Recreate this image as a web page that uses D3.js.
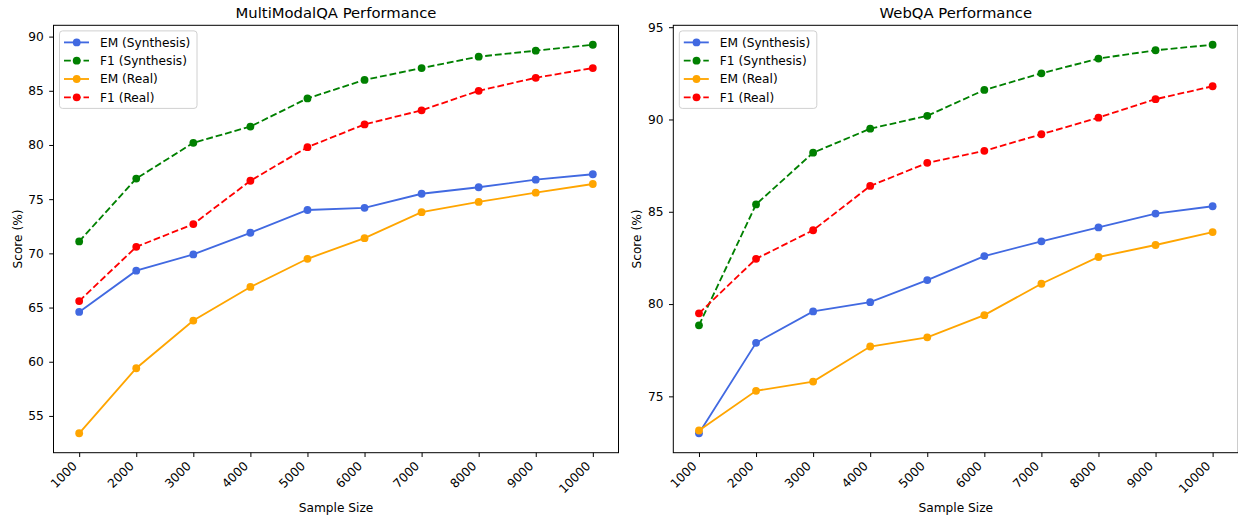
<!DOCTYPE html>
<html>
<head>
<meta charset="utf-8">
<script src="https://cdn.jsdelivr.net/npm/d3@7"></script>
<style>
  html, body { margin: 0; padding: 0; background: #fff; }
  svg text { font-family: "DejaVu Sans", sans-serif; fill: #000; }
</style>
</head>
<body>
<svg id="chart" width="1238" height="519"></svg>
<script>
// sample sizes on the x axis
const sampleSizes = [1000, 2000, 3000, 4000, 5000, 6000, 7000, 8000, 9000, 10000];

// MultiModalQA scores (%)
const mmqaEmSynth = [64.6, 68.4, 69.9, 71.9, 74.0, 74.2, 75.5, 76.1, 76.8, 77.3];
const mmqaF1Synth = [71.1, 76.9, 80.2, 81.7, 84.3, 86.0, 87.1, 88.15, 88.7, 89.25];
const mmqaEmReal = [53.4, 59.4, 63.8, 66.9, 69.5, 71.4, 73.8, 74.75, 75.6, 76.4];
const mmqaF1Real = [65.6, 70.6, 72.7, 76.7, 79.8, 81.9, 83.2, 85.0, 86.2, 87.1];

// WebQA scores (%)
const webqaEmSynth = [73.0, 77.9, 79.6, 80.1, 81.3, 82.6, 83.4, 84.15, 84.9, 85.3];
const webqaF1Synth = [78.85, 85.4, 88.2, 89.5, 90.2, 91.6, 92.5, 93.3, 93.75, 94.05];
const webqaEmReal = [73.15, 75.3, 75.8, 77.7, 78.2, 79.4, 81.1, 82.55, 83.2, 83.9];
const webqaF1Real = [79.5, 82.45, 84.0, 86.4, 87.65, 88.3, 89.2, 90.1, 91.1, 91.8];

// tick labels
const mmqaYTicks = [55, 60, 65, 70, 75, 80, 85, 90];
const webqaYTicks = [75, 80, 85, 90, 95];

const seriesNames = ["EM (Synthesis)", "F1 (Synthesis)", "EM (Real)", "F1 (Real)"];

const svg = d3.select("#chart");

// style per series, same order as seriesNames
const styles = [
  { color: "#4169e1", dash: null },
  { color: "#008000", dash: "6.8,2.95" },
  { color: "#ffa500", dash: null },
  { color: "#ff0000", dash: "6.8,2.95" },
];

function drawPanel(opts) {
  const { left, right, top, bottom, title, series, yTicks } = opts;

  // x limits padded by 5% like matplotlib
  const xMin = d3.min(sampleSizes), xMax = d3.max(sampleSizes);
  const xPad = (xMax - xMin) * 0.05;
  const x = d3.scaleLinear().domain([xMin - xPad, xMax + xPad]).range([left, right]);

  const all = series.flat();
  const yMin = d3.min(all), yMax = d3.max(all);
  const yPad = (yMax - yMin) * 0.05;
  const y = d3.scaleLinear().domain([yMin - yPad, yMax + yPad]).range([bottom, top]);

  const g = svg.append("g");

  // clip so the right panel gets cut by the window edge like the original
  // lines + markers
  const line = d3.line().x((d, i) => x(sampleSizes[i])).y(d => y(d));
  series.forEach((vals, si) => {
    const st = styles[si];
    g.append("path")
      .datum(vals)
      .attr("d", line)
      .attr("fill", "none")
      .attr("stroke", st.color)
      .attr("stroke-width", 1.84)
      .attr("stroke-dasharray", st.dash);
    g.selectAll(null)
      .data(vals)
      .enter()
      .append("circle")
      .attr("cx", (d, i) => x(sampleSizes[i]))
      .attr("cy", d => y(d))
      .attr("r", 3.9)
      .attr("fill", st.color);
  });

  // x axis
  const xAxis = g.append("g")
    .attr("transform", `translate(0,${bottom})`)
    .call(d3.axisBottom(x).tickValues(sampleSizes).tickSize(4.3).tickFormat(d3.format("d")));
  xAxis.select(".domain").remove();
  xAxis.selectAll(".tick line").attr("stroke", "#000").attr("stroke-width", 1);
  xAxis.selectAll(".tick text")
    .attr("y", null).attr("dy", null)
    .attr("text-anchor", "end")
    .attr("font-size", 12.2)
    .attr("font-family", "DejaVu Sans")
    .attr("transform", "translate(-2,14) rotate(-45)");

  // y axis
  const yAxis = g.append("g")
    .attr("transform", `translate(${left},0)`)
    .call(d3.axisLeft(y).tickValues(yTicks).tickSize(4.3).tickPadding(5.5));
  yAxis.select(".domain").remove();
  yAxis.selectAll(".tick line").attr("stroke", "#000").attr("stroke-width", 1);
  yAxis.selectAll(".tick text")
    .attr("font-size", 12.2)
    .attr("font-family", "DejaVu Sans");

  // frame
  g.append("rect")
    .attr("x", left).attr("y", top)
    .attr("width", right - left).attr("height", bottom - top)
    .attr("fill", "none").attr("stroke", "#000").attr("stroke-width", 1);

  // title and axis labels
  g.append("text")
    .attr("x", (left + right) / 2).attr("y", 18.3)
    .attr("text-anchor", "middle")
    .attr("font-size", 14.8)
    .text(title);
  g.append("text")
    .attr("x", (left + right) / 2).attr("y", 512)
    .attr("text-anchor", "middle")
    .attr("font-size", 12.2)
    .text("Sample Size");
  g.append("text")
    .attr("transform", `translate(${left - 32},${(top + bottom) / 2}) rotate(-90)`)
    .attr("text-anchor", "middle")
    .attr("font-size", 12.2)
    .text("Score (%)");

  // legend
  const lg = g.append("g").attr("transform", `translate(${left + 6},${top + 5.6})`);
  lg.append("rect")
    .attr("width", 137.5).attr("height", 77.5)
    .attr("rx", 3).attr("ry", 3)
    .attr("fill", "rgba(255,255,255,0.8)")
    .attr("stroke", "#d0d0d0").attr("stroke-width", 1);
  seriesNames.forEach((name, i) => {
    const st = styles[i];
    const cy = 11.5 + i * 18.3;
    lg.append("line")
      .attr("x1", 4.5).attr("x2", 29.5).attr("y1", cy).attr("y2", cy)
      .attr("stroke", st.color).attr("stroke-width", 1.84)
      .attr("stroke-dasharray", st.dash);
    lg.append("circle")
      .attr("cx", 17.2).attr("cy", cy).attr("r", 3.9).attr("fill", st.color);
    lg.append("text")
      .attr("x", 40.5).attr("y", cy).attr("dy", "0.36em")
      .attr("font-size", 12.2)
      .text(name);
  });
}

drawPanel({
  left: 53.5, right: 618.5, top: 25.3, bottom: 452.7,
  title: "MultiModalQA Performance",
  series: [mmqaEmSynth, mmqaF1Synth, mmqaEmReal, mmqaF1Real],
  yTicks: mmqaYTicks,
});

drawPanel({
  left: 673.3, right: 1238.3, top: 25.3, bottom: 452.7,
  title: "WebQA Performance",
  series: [webqaEmSynth, webqaF1Synth, webqaEmReal, webqaF1Real],
  yTicks: webqaYTicks,
});
</script>
</body>
</html>
